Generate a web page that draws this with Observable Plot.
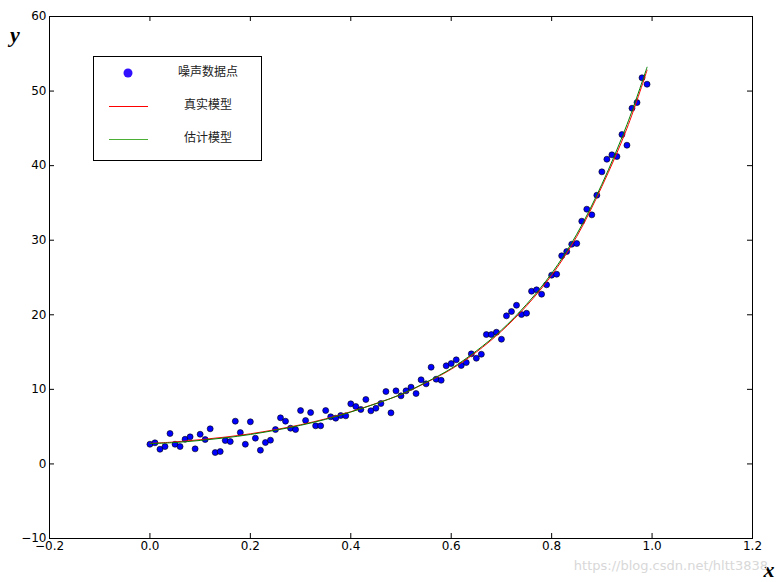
<!DOCTYPE html>
<html><head><meta charset="utf-8">
<script src="https://cdn.jsdelivr.net/npm/d3@7"></script>
<script src="https://cdn.jsdelivr.net/npm/@observablehq/plot@0.6"></script>
<style>body{margin:0;background:#fff} #chart{width:780px;height:582px}</style>
</head><body><div id="chart"></div>
<script>
// ---- data ----
const pointX = [0.00,0.01,0.02,0.03,0.04,0.05,0.06,0.07,0.08,0.09,
  0.10,0.11,0.12,0.13,0.14,0.15,0.16,0.17,0.18,0.19,
  0.20,0.21,0.22,0.23,0.24,0.25,0.26,0.27,0.28,0.29,
  0.30,0.31,0.32,0.33,0.34,0.35,0.36,0.37,0.38,0.39,
  0.40,0.41,0.42,0.43,0.44,0.45,0.46,0.47,0.48,0.49,
  0.50,0.51,0.52,0.53,0.54,0.55,0.56,0.57,0.58,0.59,
  0.60,0.61,0.62,0.63,0.64,0.65,0.66,0.67,0.68,0.69,
  0.70,0.71,0.72,0.73,0.74,0.75,0.76,0.77,0.78,0.79,
  0.80,0.81,0.82,0.83,0.84,0.85,0.86,0.87,0.88,0.89,
  0.90,0.91,0.92,0.93,0.94,0.95,0.96,0.97,0.98,0.99];
const pointY = [2.64,2.83,1.97,2.33,4.08,2.64,2.33,3.31,3.63,2.02,
  3.98,3.27,4.71,1.53,1.66,3.14,3.00,5.73,4.21,2.64,
  5.65,3.45,1.84,2.87,3.18,4.61,6.18,5.73,4.79,4.61,
  7.16,5.82,6.89,5.11,5.11,7.16,6.32,6.13,6.49,6.45,
  8.06,7.70,7.30,8.64,7.12,7.47,8.10,9.71,6.85,9.80,
  9.13,9.80,10.29,9.44,11.28,10.74,12.97,11.36,11.22,13.16,
  13.46,13.96,13.20,13.60,14.76,14.17,14.71,17.35,17.35,17.66,
  16.72,19.86,20.44,21.28,20.03,20.21,23.16,23.35,22.76,24.02,
  25.31,25.44,27.91,28.48,29.46,29.56,32.55,34.16,33.40,36.03,
  39.17,40.86,41.45,41.22,44.17,42.74,47.70,48.46,51.78,50.92];
const curveX = [0,0.05,0.10,0.15,0.20,0.25,0.30,0.35,0.40,0.45,0.50,0.55,0.60,0.65,0.70,0.75,0.80,0.85,0.90,0.95,0.99];
const trueY = [2.75,2.95,3.25,3.6,4.04,4.6,5.25,6.05,7.0,8.1,9.3,10.9,12.7,15.0,17.8,21.2,25.3,30.5,37.2,45.0,52.8];
const estY  = [2.72,2.87,3.15,3.5,3.95,4.52,5.18,5.98,6.96,8.08,9.32,10.95,12.8,15.15,17.95,21.4,25.55,30.8,37.5,45.5,53.2];
const xTicks = [-0.2,0.0,0.2,0.4,0.6,0.8,1.0,1.2];
const yTicks = [-10,0,10,20,30,40,50,60];
const legendLabels = ["噪声数据点","真实模型","估计模型"];
const xLabel = "x", yLabel = "y";
const watermark = "https://blog.csdn.net/hltt3838";

const points = pointX.map((x,i)=>({x, y: pointY[i]}));
const trueCurve = curveX.map((x,i)=>({x, y: trueY[i]}));
const estCurve = curveX.map((x,i)=>({x, y: estY[i]}));

const W=780, H=582, mL=49, mR=28, mT=16, mB=44;
const fw = W-mL-mR, fh = H-mT-mB, tk = 5;

const plot = Plot.plot({
  width: W, height: H, marginLeft: mL, marginRight: mR, marginTop: mT, marginBottom: mB,
  style: {fontFamily: "DejaVu Sans", fontSize: "12px", background: "white", color: "black", overflow: "visible"},
  x: {domain: [-0.2, 1.2]},
  y: {domain: [-10, 60]},
  marks: [
    Plot.dot(points, {x: "x", y: "y", r: 3, fill: "#0000ff", stroke: "black", strokeWidth: 0.6}),
    Plot.line(trueCurve, {x: "x", y: "y", stroke: "red", strokeWidth: 1, curve: "catmull-rom"}),
    Plot.line(estCurve, {x: "x", y: "y", stroke: "green", strokeWidth: 1, curve: "catmull-rom"}),
    Plot.tickX(xTicks, {x: d=>d, insetTop: fh-tk, stroke: "black"}),
    Plot.tickX(xTicks, {x: d=>d, insetBottom: fh-tk, stroke: "black"}),
    Plot.tickY(yTicks, {y: d=>d, insetRight: fw-tk, stroke: "black"}),
    Plot.tickY(yTicks, {y: d=>d, insetLeft: fw-tk, stroke: "black"}),
    Plot.axisX(xTicks, {tickSize: 0, tickPadding: 3, label: null, tickFormat: d3.format(".1f")}),
    Plot.axisY(yTicks, {tickSize: 0, tickPadding: 3, label: null, tickFormat: d3.format("d")}),
    Plot.frame({stroke: "black"})
  ]
});
document.getElementById("chart").appendChild(plot);

const svg = d3.select(plot);
// legend
const lg = svg.append("g");
lg.append("rect").attr("x",93.5).attr("y",56.5).attr("width",168).attr("height",104)
  .attr("fill","white").attr("stroke","black");
lg.append("circle").attr("cx",128).attr("cy",73).attr("r",4.5).attr("fill","#3010ff");
lg.append("line").attr("x1",109).attr("x2",148).attr("y1",106.5).attr("y2",106.5).attr("stroke","red");
lg.append("line").attr("x1",109).attr("x2",148).attr("y1",139.5).attr("y2",139.5).attr("stroke","#4caf35");
[73,106,139].forEach((yy,i)=>{
  lg.append("text").attr("x",208).attr("y",yy).attr("text-anchor","middle").attr("dominant-baseline","middle")
    .style("font-family","'Noto Sans CJK SC'").style("font-size","12px").attr("fill","#222").text(legendLabels[i]);
});
// axis labels
svg.append("text").attr("x",15).attr("y",42).style("font-family","'Liberation Serif'").style("font-weight","bold")
  .style("font-style","italic").style("font-size","22px").attr("fill","black").text(yLabel);
svg.append("text").attr("x",769).attr("y",577).style("font-family","'Liberation Serif'").style("font-weight","bold")
  .style("font-style","italic").style("font-size","22px").attr("fill","black").text(xLabel);
// watermark
svg.append("text").attr("x",768).attr("y",570).attr("text-anchor","end").style("font-family","'DejaVu Sans'")
  .style("font-size","13px").attr("fill","#d8d8d8").text(watermark);
</script></body></html>
